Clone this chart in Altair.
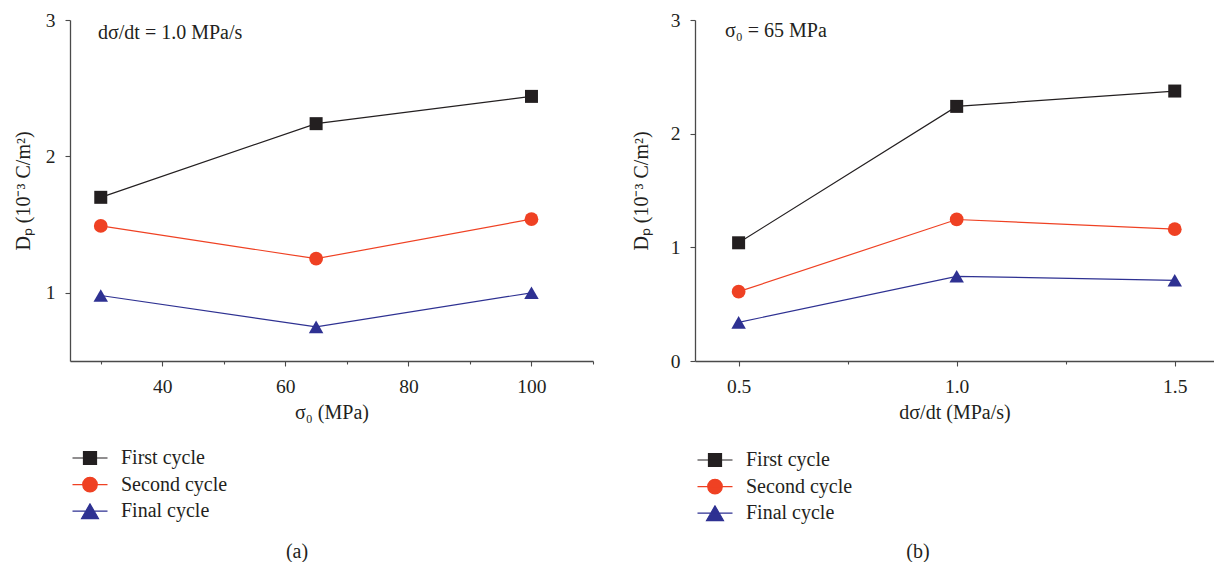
import json
import altair as alt
import pandas as pd

series = ["First cycle", "Second cycle", "Final cycle"]
colors = ["#231f20", "#ef4123", "#2e3192"]

# Panel (a): sigma_0 (MPa) at d(sigma)/dt = 1.0 MPa/s
x_a = [30, 65, 100]
first_a = [1.70, 2.24, 2.44]
second_a = [1.49, 1.25, 1.54]
final_a = [0.98, 0.75, 1.00]

# Panel (b): d(sigma)/dt (MPa/s) at sigma_0 = 65 MPa
x_b = [0.5, 1.0, 1.5]
first_b = [1.04, 2.24, 2.375]
second_b = [0.61, 1.245, 1.16]
final_b = [0.34, 0.745, 0.71]

ticks_xa = [30, 40, 50, 60, 70, 80, 90, 100, 110]
ticks_ya = [1, 1.5, 2, 2.5, 3]
ticks_xb = [0.5, 0.75, 1.0, 1.25, 1.5]
ticks_yb = [0, 0.5, 1, 1.5, 2, 2.5, 3]

FONT = "Liberation Serif"
TXT = "#231f20"
AX = "#4a4a4a"

marker_shapes = ["square", "circle", "triangle-up"]
marker_sizes = [169, 210, 289]
legend_paths = [
    "M-2.5,0H2.5M-0.93,-0.93H0.93V0.93H-0.93Z",
    "M-2.5,0H2.5M-1.04,0A1.04,1.04 0 1,0 1.04,0A1.04,1.04 0 1,0 -1.04,0Z",
    "M-2.5,0H2.5M0,-1.05L-1.21,1.05L1.21,1.05Z",
]

color_expr = "{}[indexof({}, datum.value)]".format(
    json.dumps(colors).replace('"', "'"), json.dumps(series).replace('"', "'")
)


def make_df(xs, a, b, c):
    rows = []
    for s, vals in zip(series, [a, b, c]):
        for x, v in zip(xs, vals):
            rows.append({"x": x, "y": v, "series": s})
    return pd.DataFrame(rows)


def panel(df, xdomain, xticks, xfmt, xlabel_test, xtitle, ydomain, yticks,
          ytitle_pad, annot, annot_xy, tag, tag_xy, legend_xy, width):
    xenc = alt.X(
        "x:Q",
        scale=alt.Scale(domain=xdomain, nice=False, zero=False),
        axis=alt.Axis(
            values=xticks, format=xfmt,
            labelExpr="(" + xlabel_test + ") ? datum.label : ''", title=xtitle,
            grid=False, domainColor=AX, domainWidth=1.3, tickColor=AX, tickWidth=1.1,
            tickSize={"condition": {"test": xlabel_test, "value": 5}, "value": 3},
            labelFont=FONT, labelFontSize=19.5, labelColor=TXT, labelPadding=11,
            titleFont=FONT, titleFontSize=20, titleFontWeight="normal", titleColor=TXT,
            titlePadding=7, labelFlush=False,
        ),
    )
    yenc = alt.Y(
        "y:Q",
        scale=alt.Scale(domain=ydomain, nice=False, zero=False),
        axis=alt.Axis(
            values=yticks, format="d", labelExpr="datum.value % 1 == 0 ? datum.label : ''",
            title="Dₚ (10⁻³ C/m²)", grid=False,
            domainColor=AX, domainWidth=1.3, tickColor=AX, tickWidth=1.1,
            tickSize={"condition": {"test": "datum.value % 1 == 0", "value": 5}, "value": 3},
            labelFont=FONT, labelFontSize=19.5, labelColor=TXT, labelPadding=10,
            titleFont=FONT, titleFontSize=20, titleFontWeight="normal", titleColor=TXT,
            titlePadding=ytitle_pad,
        ),
    )
    base = alt.Chart(df)
    cscale = alt.Scale(domain=series, range=colors)
    line = base.mark_line(strokeWidth=1.2).encode(
        x=xenc, y=yenc,
        color=alt.Color("series:N", scale=cscale, legend=None),
    )
    pts = base.mark_point(filled=True, opacity=1).encode(
        x="x:Q", y="y:Q",
        color=alt.Color("series:N", scale=cscale, legend=None),
        shape=alt.Shape("series:N", scale=alt.Scale(domain=series, range=marker_shapes), legend=None),
        size=alt.Size("series:N", scale=alt.Scale(domain=series, range=marker_sizes), legend=None),
    )
    leg = alt.Legend(
        orient="none", legendX=legend_xy[0], legendY=legend_xy[1], direction="vertical",
        title=None, symbolSize=196, symbolStrokeWidth=1.2, symbolOffset=0,
        symbolFillColor=alt.ExprRef(color_expr), symbolStrokeColor=alt.ExprRef(color_expr),
        labelFont=FONT, labelFontSize=20, labelColor=TXT, labelOffset=21,
        labelLimit=400, rowPadding=6.6, padding=0, symbolOpacity=1,
    )
    legend_layer = base.transform_filter("false").mark_point(filled=True, opacity=1).encode(
        x="x:Q", y="y:Q",
        color=alt.Color("series:N", scale=cscale, legend=leg),
        shape=alt.Shape("series:N", scale=alt.Scale(domain=series, range=legend_paths), legend=leg),
    )
    ann = alt.Chart(pd.DataFrame({"t": [annot]})).mark_text(
        font=FONT, fontSize=20, fontWeight="normal", color=TXT, align="left", baseline="middle"
    ).encode(x=alt.value(annot_xy[0]), y=alt.value(annot_xy[1]), text="t:N")
    tg = alt.Chart(pd.DataFrame({"t": [tag]})).mark_text(
        font=FONT, fontSize=20, fontWeight="normal", color=TXT, align="center", baseline="middle"
    ).encode(x=alt.value(tag_xy[0]), y=alt.value(tag_xy[1]), text="t:N")
    return alt.layer(line, pts, legend_layer, ann, tg).resolve_scale(
        shape="independent"
    ).properties(width=width, height=341)


df_a = make_df(x_a, first_a, second_a, final_a)
df_b = make_df(x_b, first_b, second_b, final_b)

left = panel(
    df_a, [25, 110], ticks_xa, "d",
    "datum.value % 20 == 0 && datum.value < 110",
    "σ₀ (MPa)", [0.5, 3], ticks_ya, 12,
    "dσ/dt = 1.0 MPa/s", (28, 13), "(a)", (227, 532), (10, 428), 523,
)
right = panel(
    df_b, [0.4, 1.59], ticks_xb, ".1f",
    "(datum.value * 4) % 2 == 0",
    "dσ/dt (MPa/s)", [0, 3], ticks_yb, 19,
    "σ₀ = 65 MPa", (30, 11), "(b)", (223, 532), (10, 430), 519,
)

chart = alt.hconcat(left, right, spacing=37).resolve_scale(
    color="independent", shape="independent", size="independent",
).resolve_legend(
    color="independent", shape="independent",
).properties(
    padding={"left": 13, "top": 10, "right": 0, "bottom": 0},
    background="white",
).configure_view(stroke=None)

chart.save("out.html", embed_options={"renderer": "svg", "actions": False})
